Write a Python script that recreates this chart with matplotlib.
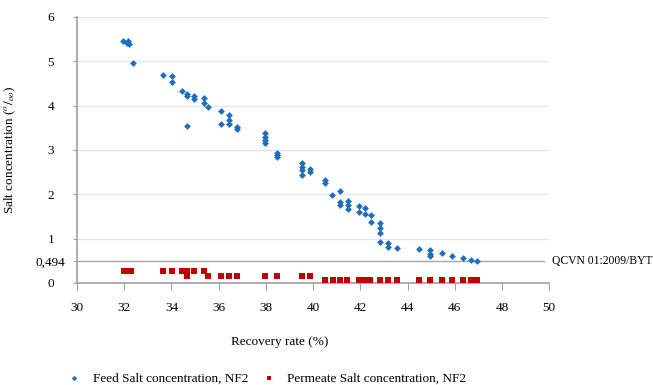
import numpy as np
import matplotlib
matplotlib.use("Agg")
import matplotlib.pyplot as plt

plt.rcParams['font.family'] = ['Liberation Serif', 'DejaVu Serif']
plt.rcParams['mathtext.fontset'] = 'stix'

# Feed salt concentration, NF2
feed_x = [31.94, 32.1, 32.17, 32.2, 32.36, 33.63, 34.04, 34.04, 34.46, 34.67, 34.67, 34.67,
          34.97, 34.97, 35.39, 35.39, 35.53, 36.09, 36.09, 36.45, 36.45, 36.45, 36.77, 36.77,
          37.97, 37.97, 37.97, 37.97, 38.46, 38.46, 38.46, 39.52, 39.52, 39.52, 39.52,
          39.87, 39.87, 40.52, 40.52, 40.79, 41.14, 41.14, 41.14, 41.48, 41.48, 41.48,
          41.96, 41.96, 42.2, 42.2, 42.44, 42.44, 42.84, 42.84, 42.84, 42.84, 43.19, 43.19,
          43.57, 44.5, 44.96, 44.96, 44.96, 45.45, 45.9, 46.34, 46.68, 46.94]
feed_y = [5.46, 5.42, 5.46, 5.38, 4.95, 4.69, 4.67, 4.54, 4.33, 4.27, 4.22, 3.53,
          4.22, 4.15, 4.17, 4.07, 3.97, 3.87, 3.58, 3.78, 3.68, 3.58, 3.51, 3.47,
          3.38, 3.30, 3.22, 3.16, 2.93, 2.88, 2.84, 2.70, 2.62, 2.54, 2.44,
          2.57, 2.50, 2.33, 2.25, 1.98, 2.07, 1.83, 1.76, 1.84, 1.75, 1.66,
          1.73, 1.61, 1.69, 1.56, 1.53, 1.38, 1.36, 1.24, 1.13, 0.92, 0.90, 0.81,
          0.78, 0.76, 0.74, 0.66, 0.60, 0.67, 0.61, 0.57, 0.52, 0.50]

# Permeate salt concentration, NF2
perm_x = [32.0, 32.1, 32.2, 32.3, 33.63, 34.04, 34.46, 34.67, 34.67, 34.97, 35.39, 35.53,
          36.09, 36.45, 36.77, 37.98, 38.46, 39.53, 39.87,
          40.52, 40.83, 41.12, 41.45, 41.96, 42.17, 42.42, 42.84, 43.19, 43.57,
          44.5, 44.96, 45.45, 45.9, 46.34, 46.68, 46.94]
perm_y = [0.28, 0.28, 0.28, 0.28, 0.28, 0.28, 0.28, 0.28, 0.16, 0.28, 0.28, 0.16,
          0.16, 0.16, 0.16, 0.16, 0.16, 0.16, 0.16,
          0.07, 0.07, 0.07, 0.07, 0.07, 0.07, 0.07, 0.07, 0.07, 0.07,
          0.07, 0.07, 0.07, 0.07, 0.07, 0.07, 0.07]

limit = 0.494
limit_label = 'QCVN 01:2009/BYT'
x_ticks = [30, 32, 34, 36, 38, 40, 42, 44, 46, 48, 50]
y_ticks = [0, 1, 2, 3, 4, 5, 6]

fs = 9.5

fig = plt.figure(figsize=(6.53, 3.85), dpi=100)
ax = fig.add_axes([0.118, 0.265, 0.723, 0.691])

ax.scatter(feed_x, feed_y, marker='D', s=12, color='#1b6fbe', linewidths=0,
           label='Feed Salt concentration, NF2', zorder=3)
ax.scatter(perm_x, perm_y, marker='s', s=20, color='#c00000', linewidths=0,
           label='Permeate Salt concentration, NF2', zorder=3)

ax.axhline(limit, xmin=0, xmax=0.99, color='#a6a6a6', lw=1.0, zorder=1)
ax.text(50.1, limit, limit_label, va='center', ha='left', fontsize=8.4, clip_on=False)

ax.set_xlim(30, 50)
ax.set_ylim(0, 6)
ax.set_xticks(x_ticks)
ax.set_yticks(y_ticks)
ax.set_yticks([limit], labels=['0,494'], minor=True)
ax.grid(axis='y', which='major', color='#e4e4e4', lw=0.9)
ax.set_axisbelow(True)

for s in ['top', 'right']:
    ax.spines[s].set_visible(False)
for s in ['left', 'bottom']:
    ax.spines[s].set_color('#a0a0a0')
    ax.spines[s].set_linewidth(1.2)

ax.tick_params(axis='x', direction='out', length=5, color='#a0a0a0', pad=9, labelsize=fs)
ax.tick_params(axis='y', which='both', direction='out', length=3, color='#a0a0a0',
               pad=16, labelsize=fs)
for lab in ax.get_yticklabels(which='both'):
    lab.set_horizontalalignment('center')

ax.set_xlabel('Recovery rate (%)', fontsize=fs)
ax.xaxis.set_label_coords(0.43, -0.2)
ax.set_ylabel(r'Salt concentration ($^{o}/_{oo}$)', fontsize=fs)
ax.yaxis.set_label_coords(-0.125, 0.5)

fig.legend(loc='lower left', bbox_to_anchor=(0.075, -0.03), ncol=2, frameon=False,
           fontsize=fs, handletextpad=0.4, columnspacing=0.6, markerscale=0.8)

fig.savefig('out.png', dpi=100)
